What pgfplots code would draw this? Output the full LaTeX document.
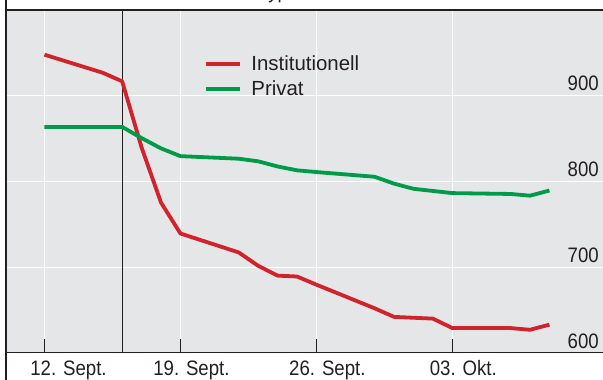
\documentclass[border=0pt]{standalone}
\usepackage{pgfplots}
\pgfplotsset{compat=1.18}
\usepackage{fontspec}
\setmainfont{Liberation Sans}
\newfontfamily\tickfont{Liberation Sans}[FakeStretch=0.89]
\definecolor{bggray}{HTML}{E5E6E8}
\definecolor{myred}{HTML}{D0232B}
\definecolor{mygreen}{HTML}{009B48}
\definecolor{txt}{HTML}{231F20}
\begin{document}
\begin{tikzpicture}
\useasboundingbox (0,0) rectangle (603bp,380bp);
\clip (0,0) rectangle (603bp,380bp);
\node[anchor=base west, font=\tickfont\fontsize{21}{23}\selectfont, inner sep=0pt, text=txt] at (176bp,381.5bp) {Investorentyp};
\begin{axis}[
  at={(5.5bp,27bp)}, anchor=south west,
  scale only axis, width=597.5bp, height=343bp,
  xmin=-2.008, xmax=28.76, ymin=600, ymax=999,
  axis background/.style={fill=bggray},
  axis line style={draw=none},
  /pgf/number format/assume math mode=true,
  xtick={0,7,14,21},
  xticklabels={{\hspace*{26bp}12. Sept.},{19. Sept.},{26. Sept.},{03. Okt.}},
  ytick={600,700,800,900},
  grid=major, grid style={white, line width=1bp},
  tick align=inside,
  xtick pos=bottom,
  major tick length=14bp,
  x tick style={txt, line width=1bp},
  y tick style={draw=none},
  yticklabel pos=right,
  ticklabel style={font=\tickfont\fontsize{21}{23}\selectfont, text=txt},
  xticklabel style={anchor=base, xshift=11bp, yshift=-22bp},
  yticklabel style={anchor=south east, inner sep=0pt, xshift=-4bp, yshift=4.3bp},
  legend style={at={(axis cs:8.2,946)}, anchor=north west, draw=none, fill=none,
    inner sep=0pt, row sep=8.7bp, column sep=10bp,
    nodes={inner sep=0pt, text=txt}, font=\fontsize{20.5}{22}\selectfont},
  legend cell align=left,
  legend image code/.code={\draw[#1, line width=3.5bp] (0bp,0bp) -- (34bp,0bp);},
]
\draw[txt, line width=1bp] (axis cs:4,600) -- (axis cs:4,999);
\addplot[myred, line width=3.8bp, line join=round] coordinates {
(0,947) (3,926) (4,916) (5,839) (6,775) (7,739) (10,717) (11,701.5) (12,690) (13,689)
(14,679.5) (17,652) (18,642) (19,641) (20,640) (21,629) (24,629) (25,627) (26,633)};
\addlegendentry{Institutionell}
\addplot[mygreen, line width=3.8bp, line join=round] coordinates {
(0,863) (3,863) (4,863) (5,850) (6,838) (7,829) (10,826) (11,823) (12,817) (13,812.5)
(14,810.5) (17,805) (18,797) (19,791) (20,788.5) (21,786) (24,785) (25,783) (26,789)};
\addlegendentry{Privat}
\draw[txt, line width=2bp] (rel axis cs:0,1) -- (rel axis cs:1,1);
\draw[txt, line width=2bp] (rel axis cs:0,0) -- (rel axis cs:1,0);
\end{axis}
\draw[txt, line width=2bp] (5.5bp,0bp) -- (5.5bp,380bp);
\end{tikzpicture}
\end{document}
